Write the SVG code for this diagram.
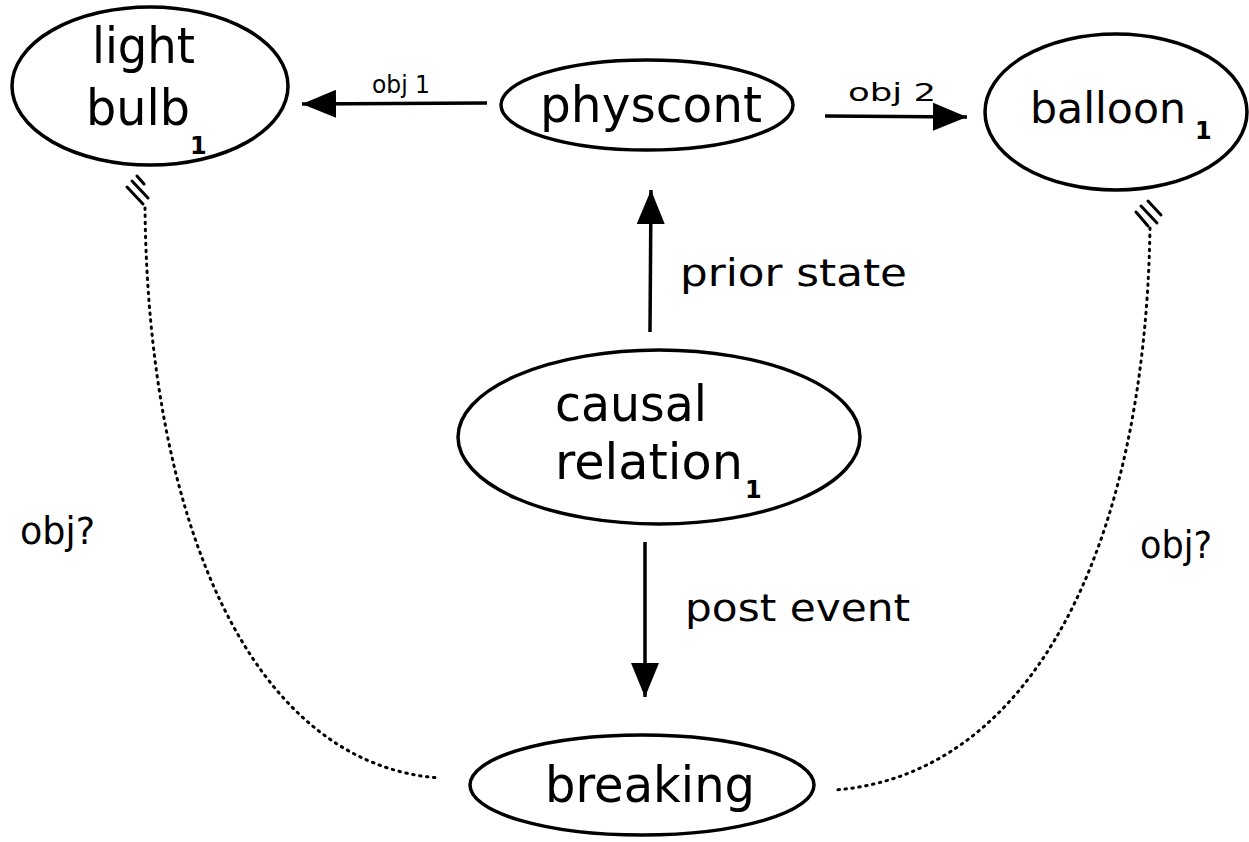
<svg xmlns="http://www.w3.org/2000/svg" width="1249" height="842" viewBox="0 0 1249 842">
<defs>
<style>
.node{fill:#fff;stroke:#000;stroke-width:3.5}
.t{font-family:"DejaVu Sans","Liberation Sans",sans-serif;font-size:50px;fill:#000}
.sub{font-family:"DejaVu Sans","Liberation Sans",sans-serif;font-size:24px;font-weight:bold;fill:#000}
.lbl{font-family:"DejaVu Sans","Liberation Sans",sans-serif;font-size:37px;fill:#000}
.el{font-family:"DejaVu Sans","Liberation Sans",sans-serif;font-size:24px;fill:#000}
.edge{stroke:#000;stroke-width:3.5;fill:none}
.dot{stroke:#000;stroke-width:3;fill:none;stroke-dasharray:1.5 5.5;stroke-linecap:round}
.hash{stroke:#000;stroke-width:3;stroke-linecap:round}
</style>
<marker id="big" viewBox="0 0 10 10" refX="10" refY="5" markerWidth="34" markerHeight="28" markerUnits="userSpaceOnUse" orient="auto" preserveAspectRatio="none"><path d="M0,0 L10,5 L0,10 Z" fill="#000"/></marker>
</defs>
<g id="connectors">
<line class="edge" x1="487" y1="103" x2="302" y2="104" marker-end="url(#big)"/>
<text class="el" x="372" y="93" textLength="58" lengthAdjust="spacingAndGlyphs">obj 1</text>
<line class="edge" x1="825" y1="116" x2="967" y2="117" marker-end="url(#big)"/>
<text class="el" x="848" y="101" textLength="88" lengthAdjust="spacingAndGlyphs">obj 2</text>
<line class="edge" x1="650" y1="332" x2="651" y2="190" marker-end="url(#big)"/>
<text class="lbl" x="680" y="286" textLength="227" lengthAdjust="spacingAndGlyphs">prior state</text>
<line class="edge" x1="645" y1="542" x2="645" y2="697" marker-end="url(#big)"/>
<text class="lbl" x="685" y="621" textLength="225" lengthAdjust="spacingAndGlyphs">post event</text>
<path class="dot" d="M145,208 C148,520 250,765 440,778"/>
<path class="dot" d="M1150,228 C1145,550 1030,775 835,790"/>
<line class="hash" x1="137" y1="176" x2="144" y2="184"/>
<line class="hash" x1="132" y1="181" x2="148" y2="198"/>
<line class="hash" x1="127" y1="187" x2="143" y2="204"/>
<line class="hash" x1="1148" y1="201" x2="1161" y2="215"/>
<line class="hash" x1="1141" y1="206" x2="1157" y2="223"/>
<line class="hash" x1="1136" y1="212" x2="1148" y2="226"/>
<text class="lbl" x="20" y="544" textLength="75" lengthAdjust="spacingAndGlyphs">obj?</text>
<text class="lbl" x="1140" y="558" textLength="72" lengthAdjust="spacingAndGlyphs">obj?</text>
</g>
<g id="lightbulb">
<ellipse class="node" cx="150" cy="86" rx="138" ry="79"/>
<text class="t" x="92" y="63" textLength="103" lengthAdjust="spacingAndGlyphs">light</text>
<text class="t" x="86" y="125" textLength="104" lengthAdjust="spacingAndGlyphs">bulb</text>
<text class="sub" x="190" y="154">1</text>
</g>
<g id="physcont">
<ellipse class="node" cx="647" cy="105" rx="146" ry="45"/>
<text class="t" x="540" y="122" textLength="222" lengthAdjust="spacingAndGlyphs">physcont</text>
</g>
<g id="balloon">
<ellipse class="node" cx="1116" cy="112" rx="131" ry="78"/>
<text class="t" x="1030" y="123" style="font-size:42px" textLength="156" lengthAdjust="spacingAndGlyphs">balloon</text>
<text class="sub" x="1195" y="139">1</text>
</g>
<g id="causal">
<ellipse class="node" cx="659" cy="437" rx="201" ry="87"/>
<text class="t" x="555" y="421" textLength="152" lengthAdjust="spacingAndGlyphs">causal</text>
<text class="t" x="555" y="479" textLength="188" lengthAdjust="spacingAndGlyphs">relation</text>
<text class="sub" x="745" y="498">1</text>
</g>
<g id="breaking">
<ellipse class="node" cx="642" cy="785" rx="172" ry="50"/>
<text class="t" x="545" y="802" textLength="210" lengthAdjust="spacingAndGlyphs">breaking</text>
</g>
</svg>
